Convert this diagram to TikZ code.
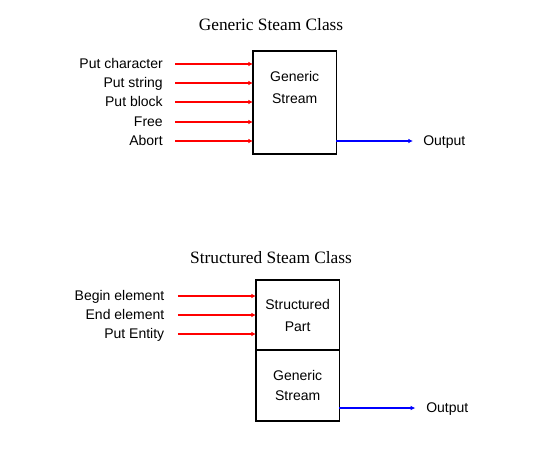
\documentclass[tikz,border=0pt]{standalone}
\usepackage{fontspec}
\setmainfont{Liberation Serif}
\setsansfont{Liberation Sans}
\usetikzlibrary{arrows.meta,calc,positioning}

\tikzset{
  ttl/.style={font=\fontsize{13}{15}\selectfont, inner sep=0pt},
  lbl/.style={font=\sffamily\fontsize{10.5}{12}\selectfont, inner sep=0pt,
    text height=7.5pt, text depth=1.5pt},
  boxtext/.style={font=\sffamily\fontsize{10.5}{16.5}\selectfont, align=center, inner sep=0pt},
  box/.style={draw, line width=0.8pt, inner sep=0pt, outer sep=0pt, minimum width=62.5pt},
  inarrow/.style={draw=red, line width=0.8pt, -{Latex[length=3.5pt,width=3.5pt]}},
  outarrow/.style={draw=blue, line width=0.8pt, -{Latex[length=3.5pt,width=3.5pt]}}
}

\begin{document}
\begin{tikzpicture}[x=0.75pt,y=-0.75pt]
  \useasboundingbox (0,0) rectangle (549,462);

  %%% upper picture: the generic stream
  \node[ttl] (t1) at (271,25) {Generic Steam Class};
  \node[box, minimum height=77.25pt, anchor=north west] (gs) at (253,51) {};
  \node[boxtext] (gstext) at ($(gs.north)+(0,36)$) {Generic\\Stream};
  %incoming labels
  \node[lbl, anchor=east] (i1) at (163,64) {Put character};
  \node[lbl, anchor=east] (i2) at (163,83) {Put string};
  \node[lbl, anchor=east] (i3) at (163,102) {Put block};
  \node[lbl, anchor=east] (i4) at (163,122) {Free};
  \node[lbl, anchor=east] (i5) at (163,141) {Abort};
  %outgoing label
  \node[lbl, anchor=west] (o1) at (423,141) {Output};
  %incoming lines
  \draw[inarrow, shorten <=9pt] (i1.east) -- (i1 -| gs.west);
  \draw[inarrow, shorten <=9pt] (i2.east) -- (i2 -| gs.west);
  \draw[inarrow, shorten <=9pt] (i3.east) -- (i3 -| gs.west);
  \draw[inarrow, shorten <=9pt] (i4.east) -- (i4 -| gs.west);
  \draw[inarrow, shorten <=9pt] (i5.east) -- (i5 -| gs.west);
  %outgoing line
  \draw[outarrow, shorten >=7.5pt] (o1 -| gs.east) -- (o1.west);

  %%% lower picture: the structured stream
  \node[ttl] (t2) at (271,257.5) {Structured Steam Class};
  \node[box, minimum height=52.5pt, anchor=north west] (sp) at (256,280) {};
  \node[box, minimum height=53.25pt, anchor=north] (sg) at (sp.south) {};
  \node[boxtext] (sptext) at (sp.center) {Structured\\Part};
  \node[boxtext, font=\sffamily\fontsize{10.5}{15.5}\selectfont] (sgtext) at (sg.center) {Generic\\Stream};
  %incoming labels
  \node[lbl, anchor=east] (j1) at (164.5,296) {Begin element};
  \node[lbl, anchor=east] (j2) at (164.5,315) {End element};
  \node[lbl, anchor=east] (j3) at (164.5,334) {Put Entity};
  %outgoing label
  \node[lbl, anchor=west] (o2) at (426,408) {Output};
  %incoming lines
  \draw[inarrow, shorten <=10pt] (j1.east) -- (j1 -| sp.west);
  \draw[inarrow, shorten <=10pt] (j2.east) -- (j2 -| sp.west);
  \draw[inarrow, shorten <=10pt] (j3.east) -- (j3 -| sp.west);
  %outgoing line
  \draw[outarrow, shorten >=8pt] (o2 -| sg.east) -- (o2.west);
\end{tikzpicture}
\end{document}
